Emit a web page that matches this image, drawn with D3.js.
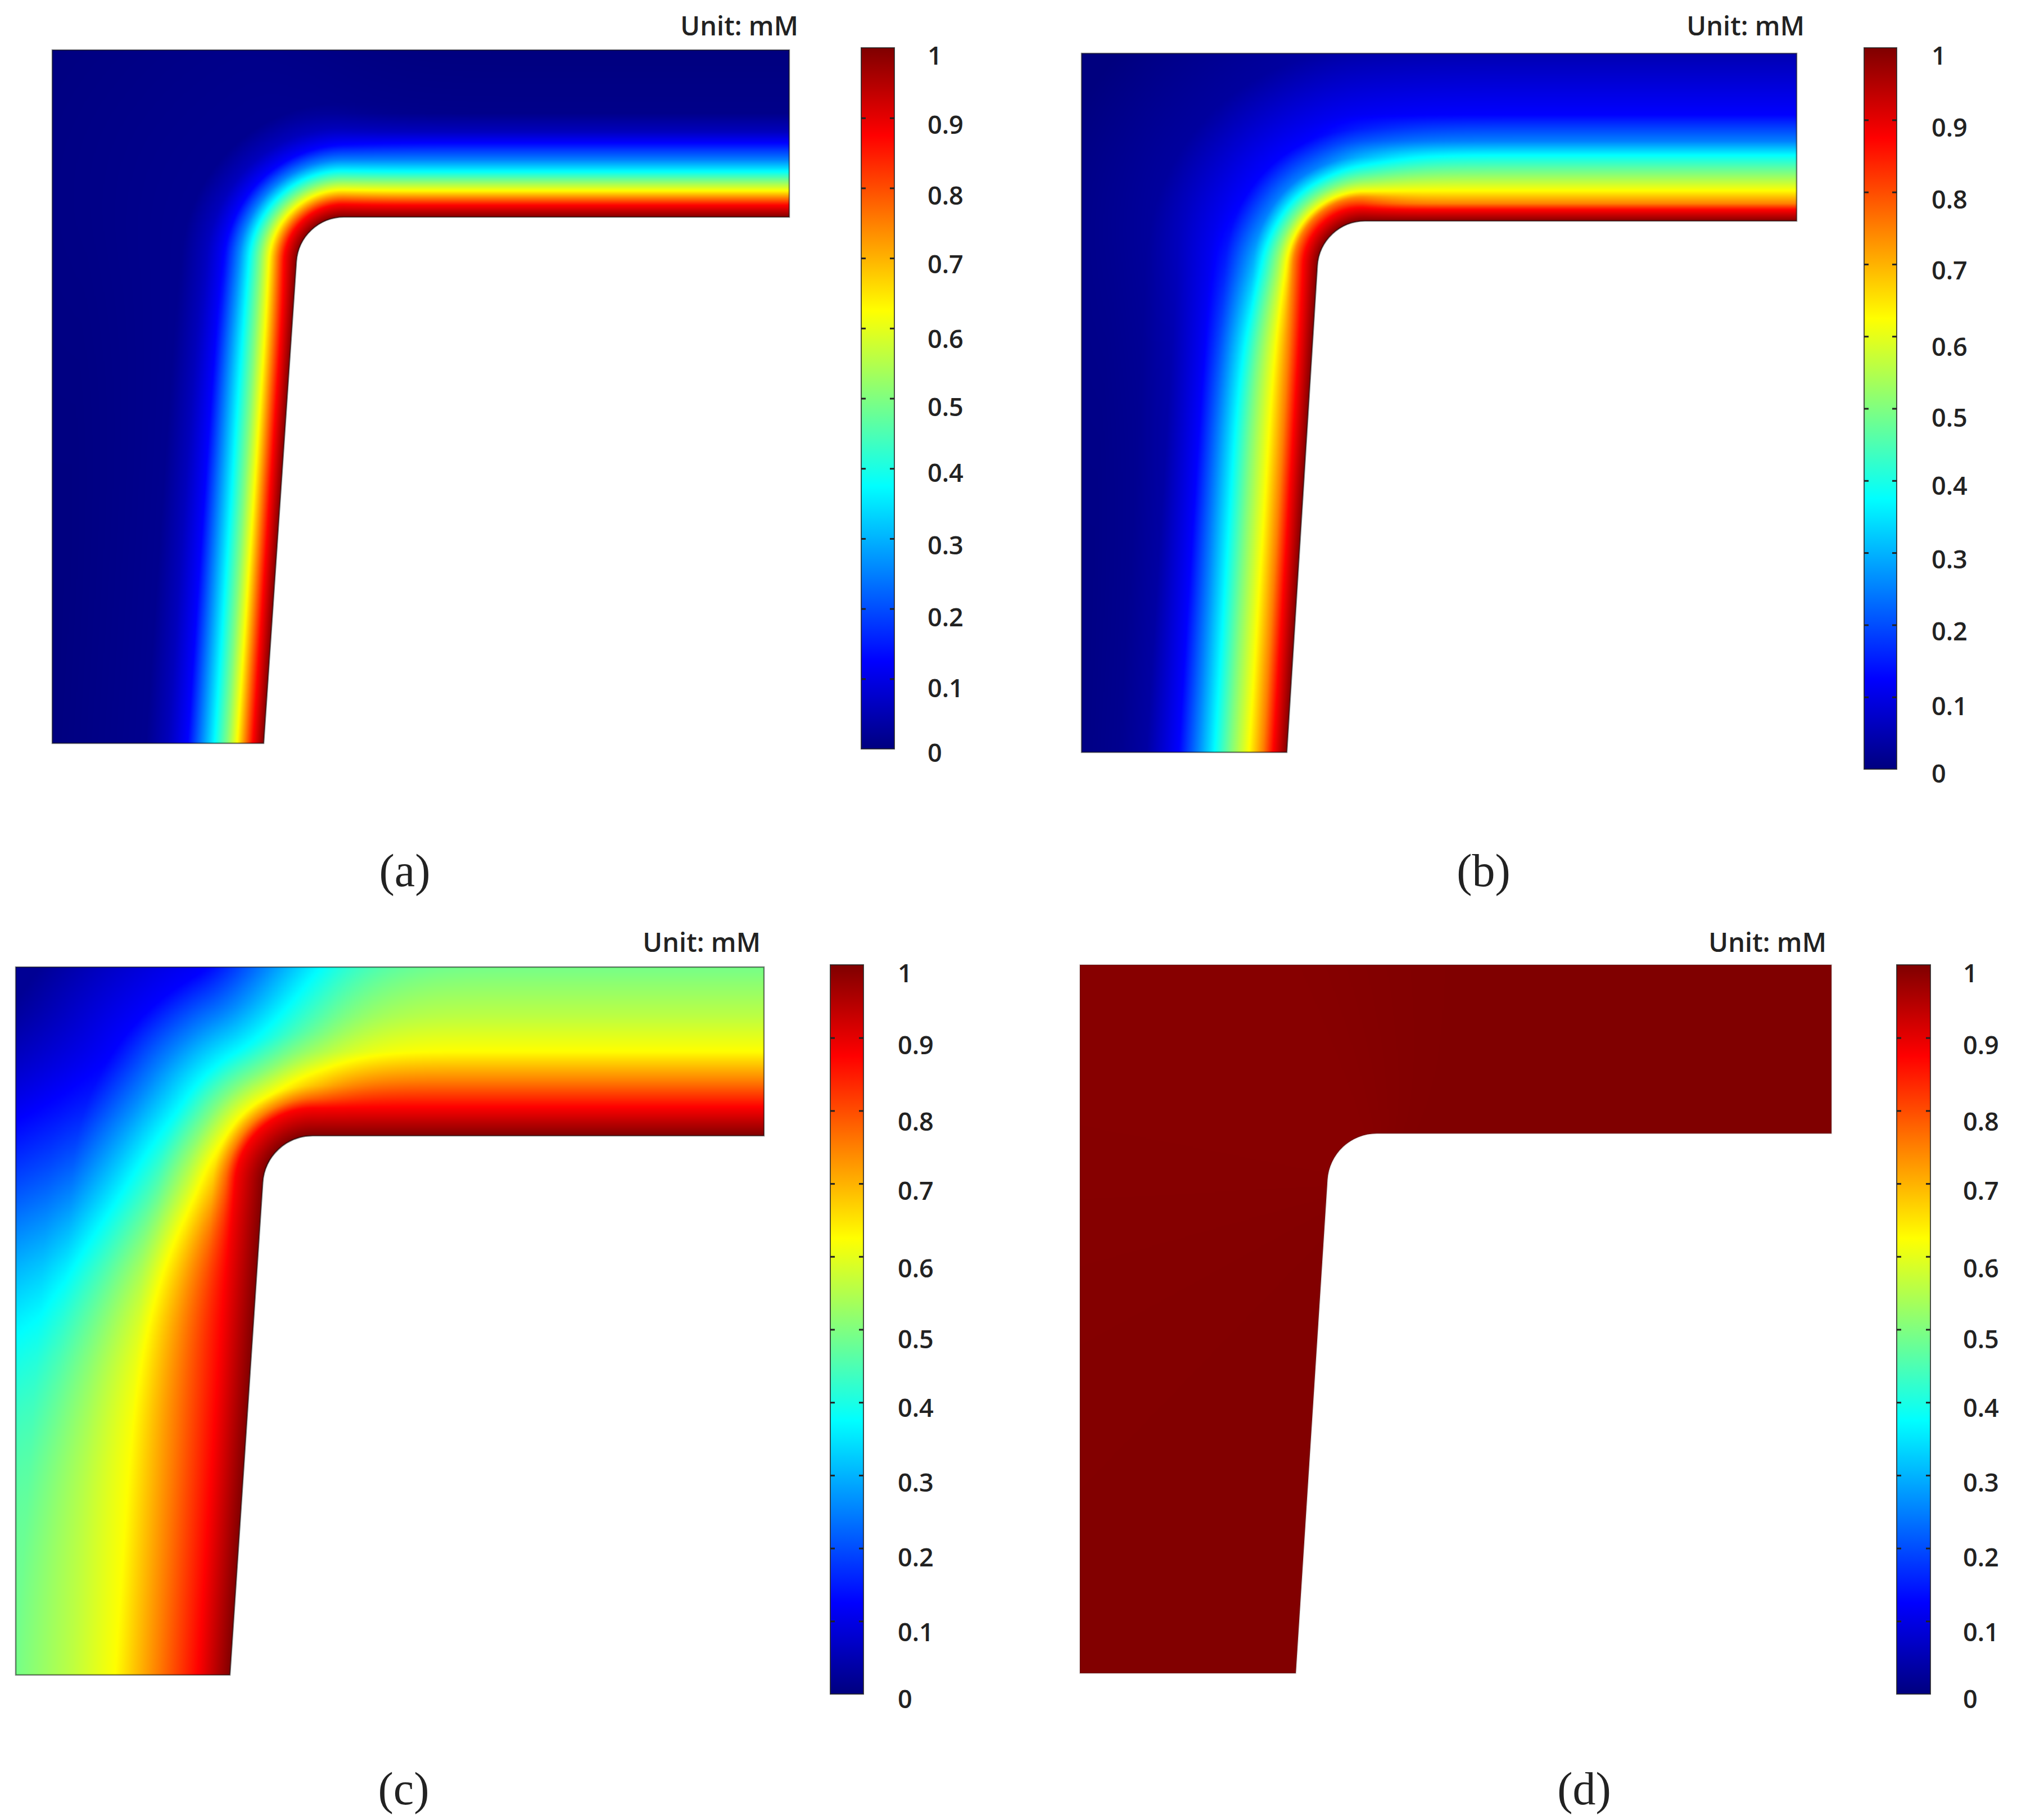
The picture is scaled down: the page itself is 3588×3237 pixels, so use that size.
<!DOCTYPE html>
<html>
<head>
<meta charset="utf-8">
<script src="https://d3js.org/d3.v7.min.js"></script>
<style>
  body { margin: 0; background: #fff; }
  text { font-family: "Open Sans", sans-serif; font-weight: 600; fill: #222; }
  .caption { font-family: "Liberation Serif", serif; font-weight: 400; font-size: 82px; fill: #222; }
</style>
</head>
<body>
<svg id="fig" width="3588" height="3237"></svg>
<script>
// colour scale of the bars (jet)
var jetStops = [0, 0.125, 0.375, 0.625, 0.875, 1];
var jetColors = ["#00007f", "#0000ff", "#00ffff", "#ffff00", "#ff0000", "#7f0000"];
var colorbarTicks = [0, 0.1, 0.2, 0.3, 0.4, 0.5, 0.6, 0.7, 0.8, 0.9, 1];
var unitLabel = "Unit: mM";

// concentration, against distance from the inner wall
// (a)
var armDistA = [0, 22, 35, 48, 65, 82, 103, 133, 153, 186, 296];
var armConcA = [1, 0.875, 0.75, 0.625, 0.5, 0.375, 0.25, 0.125, 0.06, 0.01, 0];
var cornerDistA = [0, 24, 37, 50, 66, 84, 103, 128, 160, 205, 600];
var cornerConcA = [1, 0.875, 0.75, 0.625, 0.5, 0.375, 0.25, 0.125, 0.06, 0.015, 0];
var footDistA = [0, 20, 34, 48, 66, 88, 112, 136, 170, 210, 376];
var footConcA = [1, 0.875, 0.75, 0.625, 0.5, 0.375, 0.25, 0.125, 0.06, 0.015, 0];
// (b)
var armDistB = [0, 21, 32, 55, 86, 118, 143, 190, 298];
var armConcB = [1, 0.875, 0.75, 0.625, 0.5, 0.375, 0.25, 0.125, 0.05];
var cornerDistB = [0, 27, 44, 54, 71, 92, 115, 165, 306, 500];
var cornerConcB = [1, 0.875, 0.75, 0.625, 0.5, 0.375, 0.25, 0.125, 0.03, 0];
var footDistB = [0, 25, 43, 68, 100, 129, 160, 193, 250, 300, 368];
var footConcB = [1, 0.875, 0.75, 0.625, 0.5, 0.375, 0.25, 0.125, 0.035, 0.015, 0.005];
// (c)
var armDistC = [0, 52, 99, 151, 213, 302];
var armConcC = [1, 0.875, 0.75, 0.625, 0.56, 0.49];
var cornerDistC = [0, 50, 67, 90, 134, 186, 260, 340, 535];
var cornerConcC = [1, 0.875, 0.75, 0.625, 0.5, 0.375, 0.25, 0.125, 0.02];
var footDistC = [0, 58, 130, 205, 283, 382];
var footConcC = [1, 0.875, 0.75, 0.625, 0.56, 0.49];
// (d)
var armDistD = [0, 300];
var armConcD = [0.9995, 0.9995];
var cornerDistD = [0, 600];
var cornerConcD = [0.992, 0.992];
var footDistD = [0, 400];
var footConcD = [0.997, 0.997];

// layout of the four panels, in pixels
var panels = [
  { name: "(a)", capX: 720, capY: 1576,
    left: 93, right: 1404, top: 89, armY: 386, bottom: 1322, footX: 469, bendX: 527, bendY: 468, r: 85,
    barX: 1532, barW: 59, barTop: 85, barBot: 1332, labelX: 1650, unitX: 1420, unitY: 46,
    labelY: [99, 222, 348, 470, 603, 724, 841, 970, 1098, 1224, 1339],
    arm: [armDistA, armConcA], corner: [cornerDistA, cornerConcA], foot: [footDistA, footConcA] },
  { name: "(b)", capX: 2639, capY: 1576,
    left: 1924, right: 3196, top: 95, armY: 393, bottom: 1338, footX: 2289, bendX: 2343, bendY: 478, r: 85,
    barX: 3316, barW: 58, barTop: 85, barBot: 1368, labelX: 3436, unitX: 3210, unitY: 46,
    labelY: [99, 227, 355, 481, 617, 743, 864, 995, 1123, 1256, 1376],
    arm: [armDistB, armConcB], corner: [cornerDistB, cornerConcB], foot: [footDistB, footConcB] },
  { name: "(c)", capX: 718, capY: 3209,
    left: 28, right: 1359, top: 1720, armY: 2020, bottom: 2979, footX: 409, bendX: 467, bendY: 2109, r: 89,
    barX: 1477, barW: 59, barTop: 1716, barBot: 3013, labelX: 1597, unitX: 1353, unitY: 1676,
    labelY: [1731, 1859, 1995, 2118, 2256, 2382, 2504, 2637, 2770, 2903, 3022],
    arm: [armDistC, armConcC], corner: [cornerDistC, cornerConcC], foot: [footDistC, footConcC] },
  { name: "(d)", capX: 2818, capY: 3209,
    left: 1921, right: 3258, top: 1716, armY: 2016, bottom: 2976, footX: 2305, bendX: 2361, bendY: 2104, r: 88,
    barX: 3374, barW: 60, barTop: 1716, barBot: 3013, labelX: 3492, unitX: 3249, unitY: 1676,
    labelY: [1731, 1859, 1995, 2118, 2256, 2382, 2504, 2637, 2770, 2903, 3022],
    arm: [armDistD, armConcD], corner: [cornerDistD, cornerConcD], foot: [footDistD, footConcD] }
];

var jet = d3.scaleLinear().domain(jetStops).range(jetColors).clamp(true);
// lookup so that the per pixel loop stays fast
var jetTable = d3.range(4097).map(function(i) { return d3.rgb(jet(i / 4096)); });

var svg = d3.select("#fig");
var defs = svg.append("defs");

// the colour bar gradient comes from the same scale
var grad = defs.append("linearGradient").attr("id", "jetGrad")
    .attr("x1", 0).attr("y1", 1).attr("x2", 0).attr("y2", 0);
grad.selectAll("stop").data(d3.range(0, 1.0001, 0.025)).enter().append("stop")
    .attr("offset", function(d) { return d; })
    .attr("stop-color", function(d) { return jet(d); });

function smooth(t) {
  t = Math.max(0, Math.min(1, t));
  return t * t * (3 - 2 * t);
}

function drawPanel(p, i) {
  var g = svg.append("g");

  // slanted wall of the foot and the fillet between it and the arm
  var slope = (p.bendX - p.footX) / (p.bottom - p.bendY);
  var a = Math.atan(slope);
  var cy = p.armY + p.r;
  var wallX = function(y) { return p.footX + (p.bottom - y) * slope; };
  var cx = wallX(cy) + p.r / Math.cos(a);

  var shape = d3.path();
  shape.moveTo(p.left, p.top);
  shape.lineTo(p.right, p.top);
  shape.lineTo(p.right, p.armY);
  shape.lineTo(cx, p.armY);
  shape.arc(cx, cy, p.r, -Math.PI / 2, -Math.PI + a, true);
  shape.lineTo(p.footX, p.bottom);
  shape.lineTo(p.left, p.bottom);
  shape.closePath();

  defs.append("clipPath").attr("id", "clip" + i).append("path").attr("d", shape.toString());

  var armScale = d3.scaleLinear().domain(p.arm[0]).range(p.arm[1]).clamp(true);
  var cornerScale = d3.scaleLinear().domain(p.corner[0]).range(p.corner[1]).clamp(true);
  var footScale = d3.scaleLinear().domain(p.foot[0]).range(p.foot[1]).clamp(true);

  // paint the concentration field on a canvas, two pixels per cell
  var step = 2;
  var w = Math.ceil((p.right - p.left) / step) + 1;
  var h = Math.ceil((p.bottom - p.top) / step) + 1;
  var canvas = document.createElement("canvas");
  canvas.width = w;
  canvas.height = h;
  var ctx = canvas.getContext("2d");
  var img = ctx.createImageData(w, h);
  var tanA = Math.tan(a), cosA = Math.cos(a);

  for (var row = 0; row < h; row++) {
    var y = p.top + row * step;
    for (var col = 0; col < w; col++) {
      var x = p.left + col * step;
      var dx = x - cx, dy = y - cy, d;
      if (dx >= 0) d = Math.max(0, p.armY - y);
      else if (dy < dx * tanA) d = Math.max(0, Math.sqrt(dx * dx + dy * dy) - p.r);
      else d = Math.max(0, (wallX(y) - x) * cosA);

      // blend the arm or foot profile into the corner profile by angle round the fillet
      var theta = Math.atan2(-dy, dx) * 180 / Math.PI;
      if (theta < 0) theta += 360;
      var v;
      if (theta <= 135) {
        // the arm keeps its own profile further round when far from the wall
        var wa = Math.pow(smooth((theta - 35) / 85), 1 + d / 200);
        v = armScale(d) * (1 - wa) + cornerScale(d) * wa;
      } else {
        var wf = smooth((270 - theta - 30) / 95);
        v = footScale(d) * (1 - wf) + cornerScale(d) * wf;
      }
      var c = jetTable[Math.round(v * 4096)];
      var o = (row * w + col) * 4;
      img.data[o] = c.r;
      img.data[o + 1] = c.g;
      img.data[o + 2] = c.b;
      img.data[o + 3] = 255;
    }
  }
  ctx.putImageData(img, 0, 0);

  g.append("image")
      .attr("href", canvas.toDataURL("image/png"))
      .attr("x", p.left).attr("y", p.top)
      .attr("width", w * step).attr("height", h * step)
      .attr("preserveAspectRatio", "none")
      .attr("clip-path", "url(#clip" + i + ")");

  // thin dark outline of the domain
  g.append("path").attr("d", shape.toString())
      .attr("fill", "none")
      .attr("stroke", "#000")
      .attr("stroke-opacity", i == 3 ? 0.15 : 0.5)
      .attr("stroke-width", 2.5);

  // colour bar
  var yBar = d3.scaleLinear().domain([0, 1]).range([p.barBot, p.barTop]);
  g.append("rect")
      .attr("x", p.barX).attr("y", p.barTop)
      .attr("width", p.barW).attr("height", p.barBot - p.barTop)
      .attr("fill", "url(#jetGrad)")
      .attr("stroke", "#222")
      .attr("stroke-opacity", 0.8)
      .attr("stroke-width", 2);

  // tick marks on both edges of the bar, not at its two ends
  var innerTicks = colorbarTicks.slice(1, -1);
  var inner = d3.axisRight(yBar).tickValues(innerTicks).tickSize(8).tickFormat("");
  var innerR = d3.axisLeft(yBar).tickValues(innerTicks).tickSize(8).tickFormat("");
  [[inner, p.barX], [innerR, p.barX + p.barW]].forEach(function(t) {
    var ax = g.append("g").attr("transform", "translate(" + t[1] + ",0)").call(t[0]);
    ax.select(".domain").remove();
    ax.selectAll("line").attr("stroke", "#222").attr("stroke-width", 3);
  });

  // labels sit where the screenshot has them, a bit under their ticks
  var labels = d3.axisRight(yBar).tickValues(colorbarTicks).tickSize(0).tickPadding(0)
      .tickFormat(d3.format("~g"));
  var lab = g.append("g").attr("transform", "translate(" + p.labelX + ",0)").call(labels);
  lab.select(".domain").remove();
  lab.attr("font-size", null).attr("font-family", null);
  lab.selectAll(".tick").attr("transform", null);
  lab.selectAll(".tick text")
      .attr("x", 0)
      .attr("y", function(d) { return p.labelY[10 - Math.round(d * 10)]; })
      .attr("dy", "0.36em")
      .style("font-size", "45px");

  g.append("text")
      .attr("x", p.unitX).attr("y", p.unitY)
      .attr("dy", "0.36em")
      .attr("text-anchor", "end")
      .style("font-size", "47px")
      .text(unitLabel);

  g.append("text")
      .attr("class", "caption")
      .attr("x", p.capX).attr("y", p.capY)
      .attr("text-anchor", "middle")
      .text(p.name);
}

panels.forEach(drawPanel);
</script>
</body>
</html>
